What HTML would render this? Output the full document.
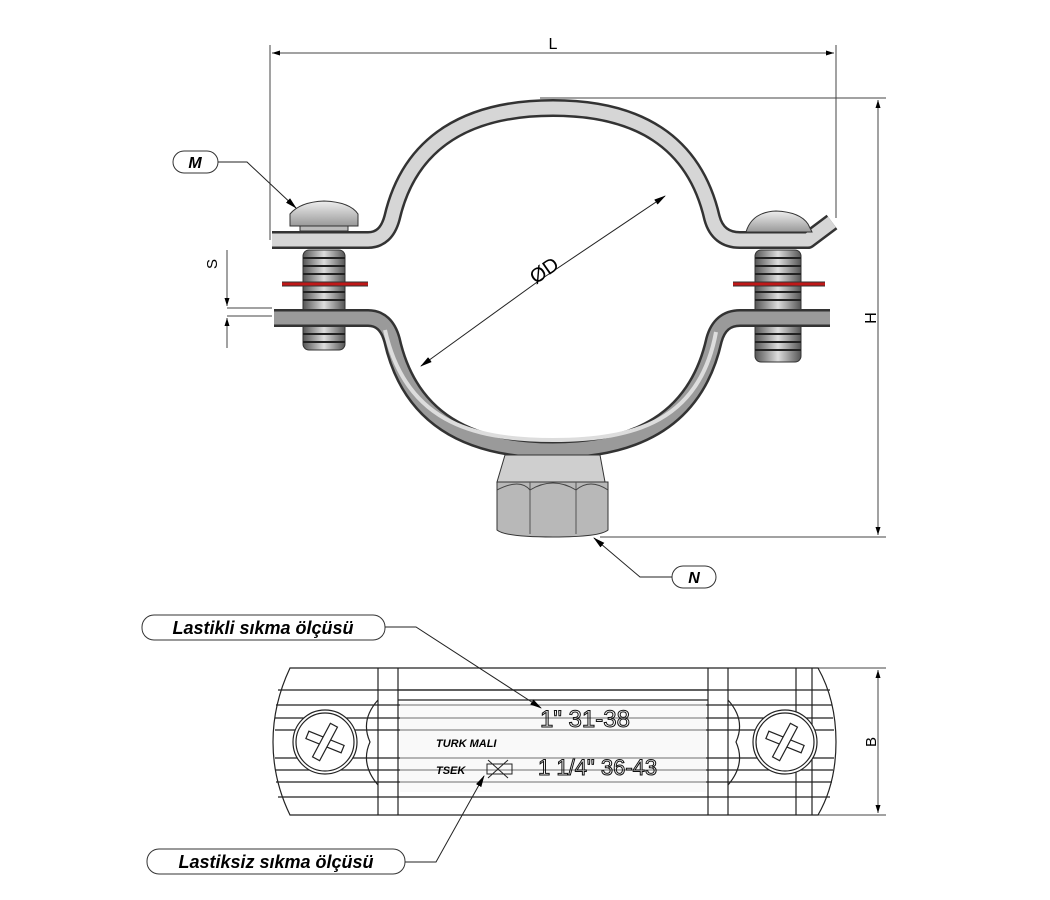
<!DOCTYPE html>
<html><head><meta charset="utf-8"><style>
html,body{margin:0;padding:0;background:#fff;}
svg{display:block;}
text{font-family:"Liberation Sans",sans-serif;}
</style></head><body>
<svg width="1050" height="900" viewBox="0 0 1050 900" xmlns="http://www.w3.org/2000/svg">
<defs>
<marker id="ar" markerWidth="12" markerHeight="8" refX="11" refY="4" orient="auto" markerUnits="userSpaceOnUse">
<path d="M0,1 L12,4 L0,7 Z" fill="#000"/></marker>
<marker id="as" markerWidth="8" markerHeight="6" refX="8" refY="3" orient="auto-start-reverse" markerUnits="userSpaceOnUse">
<path d="M0,0.5 L8,3 L0,5.5 Z" fill="#000"/></marker>
<linearGradient id="th" x1="0" x2="1"><stop offset="0" stop-color="#555"/><stop offset="0.5" stop-color="#ddd"/><stop offset="1" stop-color="#555"/></linearGradient>
<linearGradient id="hd" x1="0" y1="0" x2="0" y2="1"><stop offset="0" stop-color="#eee"/><stop offset="1" stop-color="#999"/></linearGradient>
</defs>
<g fill="none" stroke="#444" stroke-width="1">
<!-- L dimension -->
<line x1="270" y1="45" x2="270" y2="240"/>
<line x1="836" y1="45" x2="836" y2="218"/>
<line x1="272" y1="53" x2="834" y2="53" marker-start="url(#as)" marker-end="url(#as)"/>
<!-- H dimension -->
<line x1="540" y1="98" x2="886" y2="98"/>
<line x1="600" y1="537" x2="886" y2="537"/>
<line x1="878" y1="100" x2="878" y2="535" marker-start="url(#as)" marker-end="url(#as)"/>
<!-- S -->
<line x1="227" y1="250" x2="227" y2="306" marker-end="url(#as)"/>
<line x1="227" y1="348" x2="227" y2="318" marker-end="url(#as)"/>
<line x1="227" y1="308" x2="272" y2="308"/>
<line x1="227" y1="316" x2="272" y2="316"/>
<!-- B -->
<line x1="815" y1="668" x2="886" y2="668"/>
<line x1="815" y1="815" x2="886" y2="815"/>
<line x1="878" y1="670" x2="878" y2="813" marker-start="url(#as)" marker-end="url(#as)"/>
</g>
<text x="553" y="49" font-size="16" text-anchor="middle">L</text>
<text transform="translate(876,318) rotate(-90)" font-size="16" text-anchor="middle">H</text>
<text transform="translate(217,264) rotate(-90)" font-size="15" text-anchor="middle">S</text>
<text transform="translate(876,742) rotate(-90)" font-size="15" text-anchor="middle">B</text>

<!-- threads -->
<g>
<rect x="303" y="250" width="42" height="100" rx="6" fill="url(#th)" stroke="#333"/>
<rect x="755" y="250" width="46" height="112" rx="6" fill="url(#th)" stroke="#333"/>
<g stroke="#222" stroke-width="2">
<path d="M303,258h42M303,266h42M303,274h42M303,292h42M303,300h42M303,326h42M303,334h42M303,342h42"/>
<path d="M755,258h46M755,266h46M755,274h46M755,292h46M755,300h46M755,326h46M755,334h46M755,342h46M755,350h46"/>
</g>
<line x1="282" y1="284" x2="368" y2="284" stroke="#333" stroke-width="5"/>
<line x1="282" y1="284" x2="368" y2="284" stroke="#c01818" stroke-width="3"/>
<line x1="733" y1="284" x2="825" y2="284" stroke="#333" stroke-width="5"/>
<line x1="733" y1="284" x2="825" y2="284" stroke="#c01818" stroke-width="3"/>
</g>

<!-- bands -->
<path d="M272,240 L368,240 Q386,240 392,218 C410,140 470,108 553,108 C636,108 694,140 712,218 Q718,240 740,240 L808,240 L832,222" fill="none" stroke="#333" stroke-width="18" stroke-linejoin="round"/>
<path d="M272,240 L368,240 Q386,240 392,218 C410,140 470,108 553,108 C636,108 694,140 712,218 Q718,240 740,240 L808,240 L832,222" fill="none" stroke="#d6d6d6" stroke-width="13" stroke-linejoin="round"/>
<path d="M274,318 L368,318 Q386,318 392,340 C410,420 470,450 553,450 C636,450 696,420 714,340 Q720,318 740,318 L830,318" fill="none" stroke="#333" stroke-width="18" stroke-linejoin="round"/>
<path d="M274,318 L368,318 Q386,318 392,340 C410,420 470,450 553,450 C636,450 696,420 714,340 Q720,318 740,318 L830,318" fill="none" stroke="#9a9a9a" stroke-width="13" stroke-linejoin="round"/>
<path d="M385,330 C405,420 470,440 553,440 C636,440 700,420 716,332" fill="none" stroke="#ddd" stroke-width="4"/>

<!-- screw heads -->
<path d="M290,226 L290,214 Q300,202 324,201 Q350,202 358,214 L358,226 Z" fill="url(#hd)" stroke="#333"/>
<rect x="300" y="226" width="48" height="5" fill="#bbb" stroke="#333"/>
<path d="M746,232 Q752,212 776,211 Q800,212 808,224 L812,232 Z" fill="url(#hd)" stroke="#333"/>

<!-- nut -->
<path d="M505,455 L600,455 L605,482 L497,482 Z" fill="#cfcfcf" stroke="#333"/>
<path d="M497,482 L608,482 L608,530 Q600,537 553,537 Q505,537 497,530 Z" fill="#b8b8b8" stroke="#333"/>
<path d="M530,482 L530,534 M576,482 L576,534" stroke="#555"/>
<path d="M497,490 Q520,478 530,490 Q553,476 576,490 Q590,478 608,490" fill="none" stroke="#444"/>

<!-- ØD -->
<line x1="540" y1="280" x2="665" y2="196" stroke="#222" marker-end="url(#ar)"/>
<line x1="540" y1="280" x2="421" y2="366" stroke="#222" marker-end="url(#ar)"/>
<text transform="translate(548,276) rotate(-35)" font-size="20" text-anchor="middle">ØD</text>

<!-- M / N callouts -->
<rect x="173" y="151" width="45" height="22" rx="11" fill="#fff" stroke="#333"/>
<text x="195" y="168" font-size="16" font-weight="bold" font-style="italic" text-anchor="middle">M</text>
<polyline points="218,162 247,162 296,208" fill="none" stroke="#222" marker-end="url(#ar)"/>
<rect x="672" y="566" width="44" height="22" rx="11" fill="#fff" stroke="#333"/>
<text x="694" y="583" font-size="16" font-weight="bold" font-style="italic" text-anchor="middle">N</text>
<polyline points="672,577 640,577 594,538" fill="none" stroke="#222" marker-end="url(#ar)"/>

<!-- bottom view -->
<g fill="none" stroke="#222" stroke-width="1.2">
<path d="M290,668 L818,668 Q836,700 836,742 Q836,784 818,815 L290,815 Q273,780 273,742 Q273,704 290,668 Z" fill="#fff"/>
<path d="M378,668 V815 M398,668 V815 M708,668 V815 M728,668 V815 M796,668 V815 M812,668 V815"/>
<path d="M278,690 H830 M276,705 H832 M275,718 H833 M275,730 H834 M275,758 H834 M275,770 H833 M276,782 H832 M278,797 H830"/>
<path d="M398,690 H708 M398,700 H708" />
<path d="M378,700 Q360,720 370,742 Q360,764 378,785 M728,700 Q746,720 736,742 Q746,764 728,785"/>
<circle cx="325" cy="742" r="32" fill="#fff"/><circle cx="325" cy="742" r="29"/>
<circle cx="785" cy="742" r="32" fill="#fff"/><circle cx="785" cy="742" r="29"/>
<g transform="rotate(22 325 742)"><rect x="306" y="738" width="38" height="8" fill="#fff"/></g>
<g transform="rotate(-62 325 742)"><rect x="306" y="738" width="38" height="8" fill="#fff"/></g>
<g transform="rotate(22 785 742)"><rect x="766" y="738" width="38" height="8" fill="#fff"/></g>
<g transform="rotate(-62 785 742)"><rect x="766" y="738" width="38" height="8" fill="#fff"/></g>
</g>
<rect x="400" y="702" width="306" height="90" fill="#f4f4f4" opacity="0.5"/>
<text x="540" y="727" font-size="24" fill="none" stroke="#111" stroke-width="1">1" 31-38</text>
<text x="538" y="775" font-size="22" fill="none" stroke="#111" stroke-width="1">1 1/4" 36-43</text>
<text x="436" y="747" font-size="11" font-weight="bold" font-style="italic">TURK MALI</text>
<text x="436" y="774" font-size="11" font-weight="bold" font-style="italic">TSEK</text>
<path d="M487,764 L512,764 L512,774 L487,774 Z M488,760 L508,778 M508,760 L488,778" fill="none" stroke="#222"/>

<!-- bottom callouts -->
<rect x="142" y="615" width="243" height="25" rx="12" fill="#fff" stroke="#333"/>
<text x="263" y="634" font-size="18" font-weight="bold" font-style="italic" text-anchor="middle">Lastikli sıkma ölçüsü</text>
<polyline points="385,627 416,627 541,708" fill="none" stroke="#222" marker-end="url(#ar)"/>
<rect x="147" y="849" width="258" height="25" rx="12" fill="#fff" stroke="#333"/>
<text x="276" y="868" font-size="18" font-weight="bold" font-style="italic" text-anchor="middle">Lastiksiz sıkma ölçüsü</text>
<polyline points="405,862 436,862 484,776" fill="none" stroke="#222" marker-end="url(#ar)"/>
</svg>
</body></html>
